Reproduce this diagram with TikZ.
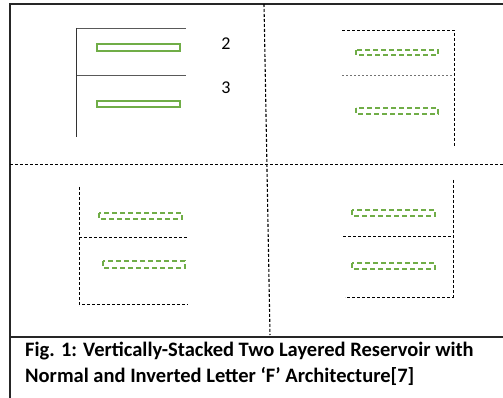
\documentclass[tikz,border=0pt]{standalone}
\usepackage{fontspec}
\setmainfont{Carlito}
\usepackage{xcolor}
\usetikzlibrary{calc}
\definecolor{resgreen}{RGB}{112,173,71}

\begin{document}
\begin{tikzpicture}[x=1pt,y=-1pt,
  frame/.style={black!85,line width=1.2pt},
  fline/.style={black!65,line width=0.9pt},
  dline/.style={black,line width=0.8pt,dash pattern=on 3pt off 2pt},
  gline/.style={black!55,line width=1pt,dash pattern=on 2pt off 2pt},
  res/.style={resgreen,line width=1.3pt,fill=white},
  dres/.style={resgreen,line width=1.3pt,dash pattern=on 5pt off 3pt},
  num/.style={font=\fontsize{18}{20}\selectfont}]
  \useasboundingbox (0,0) rectangle (503,398);
  \draw[frame] (503,4) -- (10,4) -- (10,398);
  \draw[frame] (10,337) -- (503,337);
  \draw[dline] (10,164) -- (503,164);
  \draw[dline,line width=1.1pt] (264,4) -- (270,335);
  % normal F, solid
  \draw[fline] (76,28) -- (186,28);
  \draw[fline] (76,75) -- (186,75);
  \draw[black!80,line width=1pt] (76,28) -- (76,137);
  \draw[res] (97,44) rectangle (180,51);
  \draw[res] (97,101) rectangle (180,107);
  \node[num] (two) at (226,44) {2};
  \node[num] (three) at (226,88) {3};
  % inverted F, top right
  \draw[dline] (342,30) -- (454,30) -- (454,147);
  \draw[gline] (342,76) -- (454,76);
  \draw[dres] (356,50) rectangle (438,55);
  \draw[dres] (356,108) rectangle (438,114);
  % bottom left
  \draw[dline] (79,187) -- (79,304) -- (188,304);
  \draw[dline] (79,237) -- (188,237);
  \draw[dres] (99,213) rectangle (182,219);
  \draw[dres] (103,261) rectangle (185,268);
  % bottom right
  \draw[dline] (453,180) -- (453,297) -- (345,297);
  \draw[dline] (343,236) -- (453,236);
  \draw[dres] (352,210) rectangle (435,216);
  \draw[dres] (352,263) rectangle (435,269);
  \node[anchor=north west,align=left,inner sep=0pt,
    font=\bfseries\fontsize{20.5}{26}\selectfont] (caption) at (25,342)
    {Fig. 1: Vertically-Stacked Two Layered Reservoir with\\
     Normal and Inverted Letter ‘F’ Architecture[7]};
\end{tikzpicture}
\end{document}
